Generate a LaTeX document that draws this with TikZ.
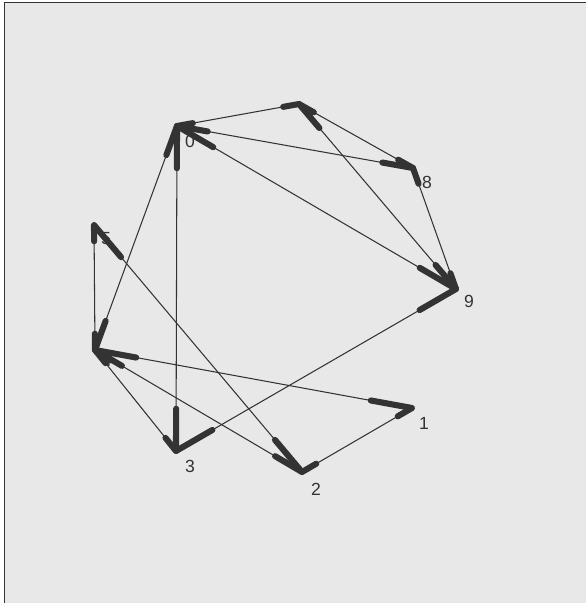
\documentclass[tikz,border=0pt]{standalone}
\usepackage{fontspec}
\setmainfont{Liberation Sans}
\usetikzlibrary{calc}
\definecolor{panel}{HTML}{E8E8E8}
\definecolor{ink}{HTML}{333333}

\begin{document}
\begin{tikzpicture}[
  x=0.03cm, y=-0.03cm,
  font=\fontsize{15}{17}\selectfont,
  vert/.style={inner sep=0pt, minimum size=0pt},
  lbl/.style={text=ink, inner sep=0pt},
  link/.style={draw=ink, line width=0.9pt},
  stub/.style={draw=ink, line width=5.2pt, line cap=round}
]

% panel
\useasboundingbox (0,0) rectangle (586,603);
\fill[white] (0,0) rectangle (586,603);
\fill[panel] (4,2) rectangle (586,603);
\draw[ink, line width=0.8pt] (4,603) -- (4,2) -- (586,2);

% vertices
\node[vert] (v0) at (177,126) {};
\node[vert] (v7) at (299,104) {};
\node[vert] (v8) at (413,168) {};
\node[vert] (v9) at (456,289) {};
\node[vert] (v1) at (412,408) {};
\node[vert] (v2) at (302,472) {};
\node[vert] (v3) at (176,451) {};
\node[vert] (v4) at (95,350)  {};
\node[vert] (v5) at (94,225)  {};

% labels (under the edges)
\node[lbl] (l0) at (190,141) {0};
\node[lbl] (l8) at (427,182) {8};
\node[lbl] (l9) at (469,301) {9};
\node[lbl] (l1) at (424,423) {1};
\node[lbl] (l2) at (316,489) {2};
\node[lbl] (l3) at (190,466) {3};
\node[lbl] (l4) at (107,360) {4};
\node[lbl] (l5) at (106,239) {5};

% edges with heavy ends
\foreach \a/\b in {0/7,0/8,0/9,0/3,0/4,7/8,7/9,8/9,9/3,5/4,5/2,4/1,4/2,4/3,1/2}{
  \draw[link] (v\a) -- (v\b);
  \draw[stub] (v\a) -- ($(v\a)!0.13!(v\b)$);
  \draw[stub] (v\b) -- ($(v\b)!0.13!(v\a)$);
}

\end{tikzpicture}
\end{document}
